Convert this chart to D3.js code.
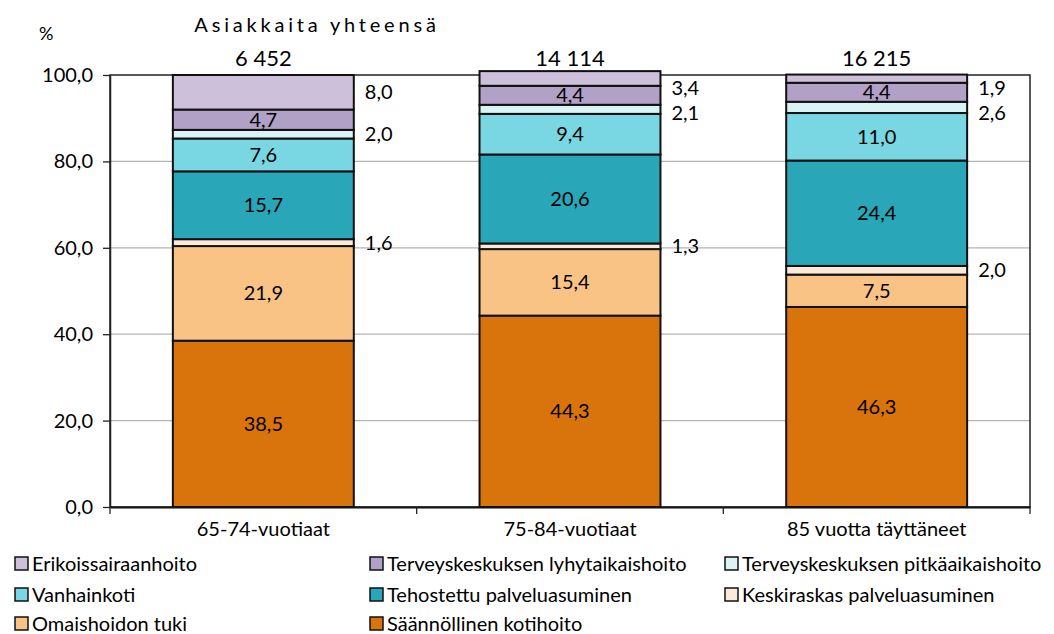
<!DOCTYPE html>
<html>
<head>
<meta charset="utf-8">
<script src="https://cdn.jsdelivr.net/npm/d3@7"></script>
<style>
  body { margin: 0; background: #fff; }
  svg text { font-family: Lato, "Open Sans", sans-serif; fill: #000; }
</style>
</head>
<body>
<svg width="1054" height="634"></svg>
<script>
// data
let ryhmat = ["65-74-vuotiaat", "75-84-vuotiaat", "85 vuotta täyttäneet"];
let yhteensa = ["6 452", "14 114", "16 215"];

// alhaalta ylös
let sarjat = [
    "Säännöllinen kotihoito",
    "Omaishoidon tuki",
    "Keskiraskas palveluasuminen",
    "Tehostettu palveluasuminen",
    "Vanhainkoti",
    "Terveyskeskuksen pitkäaikaishoito",
    "Terveyskeskuksen lyhytaikaishoito",
    "Erikoissairaanhoito"
];
let kotihoito = [38.5, 44.3, 46.3];
let omaishoito = [21.9, 15.4, 7.5];
let keskiraskas = [1.6, 1.3, 2.0];
let tehostettu = [15.7, 20.6, 24.4];
let vanhainkoti = [7.6, 9.4, 11.0];
let pitkaaikainen = [2.0, 2.1, 2.6];
let lyhytaikainen = [4.7, 4.4, 4.4];
let erikois = [8.0, 3.4, 1.9];
let arvot = [kotihoito, omaishoito, keskiraskas, tehostettu, vanhainkoti, pitkaaikainen, lyhytaikainen, erikois];

let ytikit = [0, 20, 40, 60, 80, 100];

let varit = ["#d9730b", "#f9c386", "#fde9d9", "#29a6b7", "#78d7e3", "#daf3f5", "#b2a1c7", "#ccc0da"];
// sarjat joiden arvo on palkin oikealla puolella
let ulkona = ["Keskiraskas palveluasuminen", "Terveyskeskuksen pitkäaikaishoito", "Erikoissairaanhoito"];

// legendan järjestys
let legenda = [
    "Erikoissairaanhoito", "Terveyskeskuksen lyhytaikaishoito", "Terveyskeskuksen pitkäaikaishoito",
    "Vanhainkoti", "Tehostettu palveluasuminen", "Keskiraskas palveluasuminen",
    "Omaishoidon tuki", "Säännöllinen kotihoito"
];

let svg = d3.select("svg");
let vasen = 110, oikea = 1030, yla = 75, ala = 507;

let x = d3.scaleBand().domain(ryhmat).range([vasen, oikea]).paddingInner(0.41).paddingOuter(0.205);
let y = d3.scaleLinear().domain([0, 100]).range([ala, yla]);
let fmt = d => d.toFixed(1).replace(".", ",");

// ruudukko
svg.append("g")
    .selectAll("line")
    .data(ytikit.filter(d => d > 0 && d < 100))
    .enter()
    .append("line")
    .attr("x1", vasen).attr("x2", oikea)
    .attr("y1", d => y(d)).attr("y2", d => y(d))
    .attr("stroke", "#b4b4b4").attr("stroke-width", 1.3);

// kehys
svg.append("rect")
    .attr("x", vasen).attr("y", yla)
    .attr("width", oikea - vasen).attr("height", ala - yla)
    .attr("fill", "none").attr("stroke", "#222").attr("stroke-width", 1.5);

// pinot
let pinot = ryhmat.map(function (g, i) {
    let alku = 0;
    return sarjat.map(function (s, j) {
        let v = arvot[j][i];
        let o = { ryhma: g, sarja: s, arvo: v, y0: alku, y1: alku + v, vari: varit[j] };
        alku += v;
        return o;
    });
});
let kaikki = pinot.flat();

svg.append("g")
    .selectAll("rect")
    .data(kaikki)
    .enter()
    .append("rect")
    .attr("x", d => x(d.ryhma))
    .attr("width", x.bandwidth())
    .attr("y", d => y(d.y1))
    .attr("height", d => y(d.y0) - y(d.y1))
    .attr("fill", d => d.vari)
    .attr("stroke", "#111")
    .attr("stroke-width", 2);

// arvot palkkien sisällä
svg.append("g")
    .selectAll("text")
    .data(kaikki.filter(d => ulkona.indexOf(d.sarja) < 0))
    .enter()
    .append("text")
    .attr("x", d => x(d.ryhma) + x.bandwidth() / 2)
    .attr("y", d => y((d.y0 + d.y1) / 2))
    .attr("dy", "0.35em")
    .attr("text-anchor", "middle")
    .style("font-size", "20px")
    .text(d => fmt(d.arvo));

// arvot palkkien oikealla puolella, ylhäältä alas ettei mene päällekkäin
let ulkoLabelit = [];
pinot.forEach(function (pino) {
    let edellinen = -Infinity;
    pino.filter(d => ulkona.indexOf(d.sarja) >= 0)
        .reverse()
        .forEach(function (d) {
            let ly = Math.max(y((d.y0 + d.y1) / 2), yla + 13, edellinen + 25);
            edellinen = ly;
            ulkoLabelit.push({ d: d, ly: ly });
        });
});

svg.append("g")
    .selectAll("text")
    .data(ulkoLabelit)
    .enter()
    .append("text")
    .attr("x", o => x(o.d.ryhma) + x.bandwidth() + 11)
    .attr("y", o => o.ly)
    .attr("dy", "0.35em")
    .style("font-size", "20px")
    .text(o => fmt(o.d.arvo));

// y-akseli
let yAkseli = svg.append("g")
    .attr("transform", "translate(" + vasen + ",0)")
    .call(d3.axisLeft(y).tickValues(ytikit).tickFormat(fmt).tickSize(7).tickSizeOuter(0));
yAkseli.select(".domain").attr("stroke", "#222").attr("stroke-width", 1.5);
yAkseli.selectAll(".tick line").attr("stroke", "#222").attr("stroke-width", 1.3);
yAkseli.selectAll("text").style("font-size", "20px").style("font-family", "Lato, sans-serif").attr("x", -17);

// x-akseli
let xAkseli = svg.append("g")
    .attr("transform", "translate(0," + ala + ")")
    .call(d3.axisBottom(x).tickSize(0).tickSizeOuter(0));
xAkseli.select(".domain").attr("stroke", "#111").attr("stroke-width", 2);
xAkseli.selectAll("text").style("font-size", "20px").style("font-family", "Lato, sans-serif").attr("y", 15);

// kategorioiden väliset tikit
let rajat = [vasen].concat(ryhmat.map(g => x(g) + x.bandwidth() + x.step() * x.paddingOuter()));
svg.append("g")
    .selectAll("line")
    .data(rajat)
    .enter()
    .append("line")
    .attr("x1", d => d).attr("x2", d => d)
    .attr("y1", ala).attr("y2", ala + 7)
    .attr("stroke", "#222").attr("stroke-width", 1.3);

// otsikot
svg.append("text")
    .attr("x", 39).attr("y", 40)
    .style("font-size", "18px")
    .text("%");

svg.append("text")
    .attr("x", 317).attr("y", 32)
    .attr("text-anchor", "middle")
    .style("font-size", "20px")
    .style("letter-spacing", "3.8px")
    .text("Asiakkaita yhteensä");

svg.append("g")
    .selectAll("text")
    .data(ryhmat)
    .enter()
    .append("text")
    .attr("x", d => x(d) + x.bandwidth() / 2)
    .attr("y", 66)
    .attr("text-anchor", "middle")
    .style("font-size", "22px")
    .text((d, i) => yhteensa[i]);

// selite
let seliteX = [15, 370, 725];
let seliteY = [564, 595, 624];
let selite = svg.append("g")
    .selectAll("g")
    .data(legenda)
    .enter()
    .append("g")
    .attr("transform", (d, i) => "translate(" + seliteX[i % 3] + "," + seliteY[Math.floor(i / 3)] + ")");

selite.append("rect")
    .attr("x", 0).attr("y", -7)
    .attr("width", 13).attr("height", 13)
    .attr("fill", d => varit[sarjat.indexOf(d)])
    .attr("stroke", "#111").attr("stroke-width", 1.5);

selite.append("text")
    .attr("x", 17).attr("y", 0)
    .attr("dy", "0.35em")
    .style("font-size", "20px")
    .text(d => d);
</script>
</body>
</html>
